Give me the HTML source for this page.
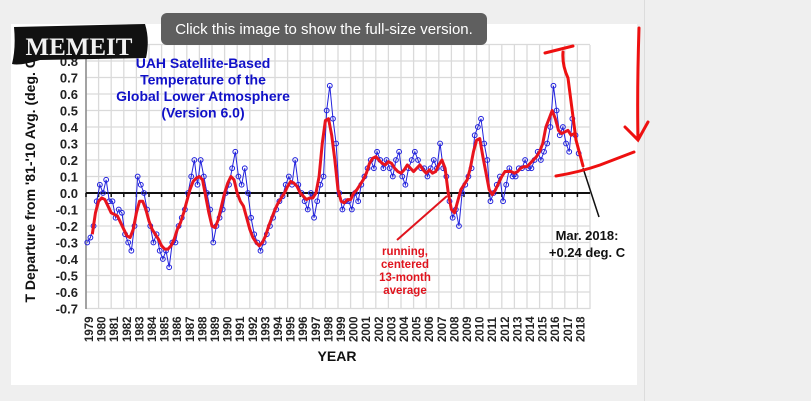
<!DOCTYPE html>
<html><head><meta charset="utf-8"><style>
html,body{margin:0;padding:0;background:#efefef;width:811px;height:401px;overflow:hidden;font-family:"Liberation Sans",sans-serif}
</style></head><body>
<svg width="811" height="401" viewBox="0 0 811 401" xmlns="http://www.w3.org/2000/svg">
<rect x="0" y="0" width="811" height="401" fill="#efefef"/>
<line x1="644.5" y1="0" x2="644.5" y2="401" stroke="#dcdcdc"/>
<rect x="11" y="24" width="626" height="361" fill="#fff"/>
<g id="grid"></g>
<g id="axes"></g>
<g id="series"></g>
<text x="203" y="68" font-size="14" font-weight="bold" fill="#1010c8" text-anchor="middle"><tspan x="203">UAH Satellite-Based</tspan><tspan x="203" dy="16.5">Temperature of the</tspan><tspan x="203" dy="16.5">Global Lower Atmosphere</tspan><tspan x="203" dy="16.5">(Version 6.0)</tspan></text>
<text transform="translate(35,178) rotate(-90)" font-size="14" font-weight="bold" text-anchor="middle" fill="#111">T Departure from '81-'10 Avg. (deg. C)</text>
<text x="337" y="361" font-size="14" font-weight="bold" text-anchor="middle" fill="#111">YEAR</text>
<line x1="397" y1="240" x2="447" y2="196" stroke="#e0141e" stroke-width="2"/>
<text x="405" y="255" font-size="11.5" font-weight="bold" fill="#e0141e" text-anchor="middle"><tspan x="405">running,</tspan><tspan x="405" dy="13">centered</tspan><tspan x="405" dy="13">13-month</tspan><tspan x="405" dy="13">average</tspan></text>
<line x1="583" y1="168" x2="599" y2="217" stroke="#111" stroke-width="1.5"/>
<text x="587" y="240" font-size="13" font-weight="bold" fill="#111" text-anchor="middle"><tspan x="587">Mar. 2018:</tspan><tspan x="587" dy="17">+0.24 deg. C</tspan></text>
<g fill="none" stroke="#ee1010" stroke-width="3" stroke-linecap="round">
<path d="M545 53 L573 46"/>
<path d="M563 52 Q562 65 568 78 Q572 110 576 140 L583 166"/>
<path d="M556 176 Q580 172 600 165 L634 152"/>
<path d="M639 28 Q637 90 638 140 M625 127 L638 140 L648 122"/>
</g>
<g>
<path d="M14 27 L145 24 Q150 40 146 58 L40 60 Q20 66 12 64 Q16 48 14 27Z" fill="#111"/>
<text x="79" y="55" font-family="Liberation Serif,serif" font-size="25" font-weight="bold" fill="#f2f2f2" text-anchor="middle">MEMEIT</text>
</g>
<g>
<rect x="161" y="13" width="326" height="32" rx="6" fill="#5f5f5f"/>
<text x="324" y="34" font-size="15" fill="#fff" text-anchor="middle">Click this image to show the full-size version.</text>
</g>
</svg>
<script>
const yTicks=[0.8,0.7,0.6,0.5,0.4,0.3,0.2,0.1,0.0,-0.1,-0.2,-0.3,-0.4,-0.5,-0.6,-0.7];
const years=[];for(let y=1979;y<=2018;y++)years.push(y);
const monthlyStart=1979.0;
const monthlyValues=[-0.3,-0.27,-0.2,-0.05,0.05,0.0,0.08,-0.05,-0.05,-0.15,-0.1,-0.12,-0.25,-0.3,-0.35,-0.2,0.1,0.05,0.0,-0.1,-0.2,-0.3,-0.25,-0.35,-0.4,-0.35,-0.45,-0.3,-0.3,-0.2,-0.15,-0.1,0.0,0.1,0.2,0.05,0.2,0.1,0.0,-0.1,-0.3,-0.2,-0.15,-0.1,0.0,0.05,0.15,0.25,0.1,0.05,0.15,0.0,-0.15,-0.25,-0.3,-0.35,-0.3,-0.25,-0.2,-0.15,-0.1,-0.05,-0.02,0.05,0.1,0.05,0.2,0.05,0.0,-0.05,-0.1,0.0,-0.15,-0.05,0.05,0.1,0.5,0.65,0.45,0.3,0.0,-0.1,-0.05,-0.05,-0.1,0.0,-0.05,0.05,0.1,0.15,0.2,0.15,0.25,0.2,0.15,0.2,0.15,0.1,0.2,0.25,0.1,0.05,0.15,0.2,0.25,0.2,0.15,0.15,0.1,0.15,0.2,0.15,0.3,0.15,0.1,-0.05,-0.15,-0.1,-0.2,0.0,0.05,0.1,0.15,0.35,0.4,0.45,0.3,0.2,-0.05,0.0,0.05,0.1,-0.05,0.05,0.15,0.1,0.1,0.15,0.15,0.2,0.15,0.15,0.2,0.25,0.2,0.25,0.3,0.4,0.65,0.5,0.35,0.4,0.3,0.25,0.45,0.35,0.24];
const avgStart=1979.5;
const avgValues=[-0.25,-0.12,-0.05,-0.03,-0.04,-0.08,-0.12,-0.13,-0.14,-0.18,-0.22,-0.26,-0.27,-0.22,-0.12,-0.05,-0.05,-0.1,-0.17,-0.22,-0.25,-0.28,-0.32,-0.34,-0.34,-0.32,-0.28,-0.22,-0.18,-0.12,-0.05,0.02,0.07,0.09,0.10,0.08,-0.02,-0.12,-0.2,-0.21,-0.16,-0.08,0.0,0.06,0.1,0.08,0.0,-0.05,-0.08,-0.15,-0.22,-0.27,-0.3,-0.32,-0.3,-0.26,-0.2,-0.15,-0.1,-0.06,-0.03,0.0,0.04,0.07,0.06,0.04,0.0,-0.02,-0.04,-0.03,-0.03,0.0,0.1,0.3,0.44,0.45,0.35,0.2,0.02,-0.05,-0.06,-0.04,-0.04,0.0,0.02,0.05,0.08,0.12,0.18,0.21,0.22,0.2,0.18,0.17,0.19,0.18,0.15,0.13,0.12,0.14,0.17,0.15,0.13,0.15,0.17,0.14,0.12,0.14,0.12,0.13,0.17,0.2,0.15,0.0,-0.1,-0.12,-0.05,0.02,0.05,0.08,0.15,0.25,0.32,0.33,0.22,0.12,0.02,-0.01,0.02,0.06,0.1,0.13,0.13,0.13,0.12,0.13,0.15,0.16,0.16,0.18,0.2,0.22,0.25,0.3,0.4,0.45,0.5,0.45,0.38,0.36,0.37,0.38,0.35,0.36];
const NS='http://www.w3.org/2000/svg';
const X0=86,X1=590,Y0=45,Y1=309;
function xs(t){return X0+(t-1979)*(X1-X0)/40;}
function ys(v){return 193-v*165;}
function mk(tag,attrs,parent){const e=document.createElementNS(NS,tag);for(const k in attrs)e.setAttribute(k,attrs[k]);parent.appendChild(e);return e;}
const grid=document.getElementById('grid'),axes=document.getElementById('axes'),series=document.getElementById('series');
for(let v=-0.7;v<=0.91;v+=0.1){const l=mk('line',{x1:X0,x2:X1,y1:ys(v),y2:ys(v),stroke:'#dadada','stroke-width':1.3},grid);

}
for(let i=0;i<=40;i++){const l=mk('line',{x1:xs(1979+i),x2:xs(1979+i),y1:Y0,y2:Y1,stroke:'#dadada','stroke-width':1.3},grid);

}
const ax=mk('line',{x1:X0,x2:X0,y1:Y0,y2:Y1,stroke:'#888','stroke-width':1.5},axes);


const zl=mk('line',{x1:X0,x2:X1,y1:ys(0),y2:ys(0),stroke:'#111','stroke-width':2},axes);


years.forEach(y=>{const t=mk('line',{x1:xs(y),x2:xs(y),y1:ys(0),y2:ys(0)+4,stroke:'#111','stroke-width':1.5},axes);


const tx=mk('text',{transform:`translate(${xs(y)+7},342) rotate(-90)`,'font-size':11.5,'font-weight':'bold',fill:'#222'},axes);
tx.textContent=y;

});
yTicks.forEach(v=>{const tx=mk('text',{x:78,y:ys(v)+5,'font-size':13,'font-weight':'bold','text-anchor':'end',fill:'#222'},axes);
tx.textContent=v.toFixed(1);

});
const mpts=monthlyValues.map((v,i)=>[xs(monthlyStart+i*0.25+0.1),ys(v)]);
const bl=mk('polyline',{points:mpts.map(p=>p.join(',')).join(' '),fill:'none',stroke:'#2222dd','stroke-width':1},series);


mpts.forEach(p=>{const c=mk('circle',{cx:p[0],cy:p[1],r:2.4,fill:'none',stroke:'#2222dd','stroke-width':1},series);

});
const apts=avgValues.map((v,i)=>[xs(avgStart+i*0.25),ys(v)]);
const rl=mk('polyline',{points:apts.map(p=>p.join(',')).join(' '),fill:'none',stroke:'#e8141e','stroke-width':3,'stroke-linejoin':'round'},series);


</script>
</body></html>
